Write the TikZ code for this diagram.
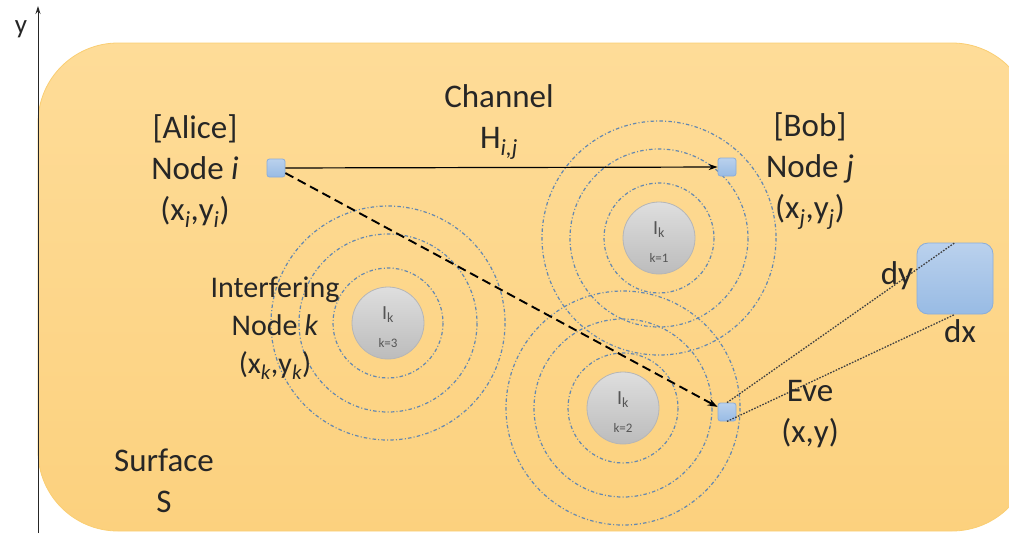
\documentclass[tikz,border=0pt]{standalone}
\usepackage{fontspec}
\setmainfont{Carlito}
\usetikzlibrary{arrows.meta}

\definecolor{surfTop}{RGB}{254,220,152}
\definecolor{surfBot}{RGB}{252,209,126}
\definecolor{surfEdge}{RGB}{250,206,115}
\definecolor{nodeTop}{RGB}{186,209,237}
\definecolor{nodeBot}{RGB}{152,187,228}
\definecolor{nodeEdge}{RGB}{138,173,218}
\definecolor{ringCol}{RGB}{100,136,176}
\definecolor{intTop}{RGB}{222,222,222}
\definecolor{intBot}{RGB}{188,188,188}
\definecolor{intEdge}{RGB}{182,182,182}
\definecolor{intTxt}{RGB}{85,85,85}
\definecolor{txt}{RGB}{38,38,38}

\tikzset{
  surface/.style={draw=surfEdge, line width=0.8pt, top color=surfTop, bottom color=surfBot, rounded corners=80pt},
  terminal/.style={draw=nodeEdge, line width=0.8pt, top color=nodeTop, bottom color=nodeBot,
    rounded corners=2.5pt, minimum size=18pt, inner sep=0pt},
  zoomed/.style={terminal, rounded corners=11pt, minimum width=76pt, minimum height=71pt},
  interferer/.style={circle, draw=intEdge, line width=0.8pt, top color=intTop, bottom color=intBot,
    minimum size=72pt, inner sep=0pt},
  ring/.style={draw=ringCol, line width=1.2pt, dash pattern=on 3.5pt off 2.2pt on 1pt off 2.2pt},
  lbl/.style={text=txt, align=center, inner sep=0pt, font=\fontsize{33}{41}\selectfont},
  smalllbl/.style={lbl, font=\fontsize{30}{38}\selectfont},
  ik/.style={text=intTxt, inner sep=0pt, font=\fontsize{20}{24}\selectfont},
  kidx/.style={text=intTxt, inner sep=0pt, font=\fontsize{13}{15}\selectfont},
  link/.style={draw=black, line width=1.2pt, -{Stealth[length=9pt,width=6pt]}},
  tap/.style={draw=black, line width=1.9pt, dash pattern=on 9pt off 5pt, -{Stealth[length=10pt,width=7pt]}},
  proj/.style={draw=black!75, line width=1.3pt, dash pattern=on 1.6pt off 1.4pt},
  axis/.style={draw=black!85, line width=1pt, -{Stealth[length=8pt,width=5pt]}}
}

\begin{document}
\begin{tikzpicture}[x=1pt,y=-1pt]
\useasboundingbox (0,0) rectangle (1009,533);

% the surface S
\path[surface] (38,43) rectangle (1032,531);

% vertical axis
\coordinate (ax0) at (38,533);
\coordinate (ax1) at (38,6);
\draw[axis] (ax0) -- (ax1);
\node[lbl, font=\fontsize{27}{30}\selectfont] (ylab) at (21,29) {y};

% interference rings
\foreach \c in {(659,238),(623,408),(388,323)} {
  \draw[ring] \c circle[radius=55];
  \draw[ring] \c circle[radius=89];
  \draw[ring] \c circle[radius=117];
}

% interfering nodes
\node[interferer] (k1) at (659,238) {};
\node[interferer] (k2) at (623,408) {};
\node[interferer] (k3) at (388,323) {};
\foreach \n/\k in {k1/1,k2/2,k3/3} {
  \node[ik] (\n I) at ([yshift=8pt]\n.center) {I\textsubscript{k}};
  \node[kidx] (\n K) at ([yshift=-20pt]\n.center) {k=\k};
}

% terminals
\node[terminal] (alice) at (276,168) {};
\node[terminal] (bob) at (727,167) {};
\node[terminal] (eve) at (727,412) {};
\node[zoomed] (big) at (955,278.5) {};

% links
\draw[link] (alice) -- (bob);
\draw[tap] (alice) -- (eve);
\draw[proj] (eve.north) -- (big.north);
\draw[proj] (eve.south) -- (big.south);

% labels
\node[lbl] (alicelab) at (195,171) {[Alice]\\Node \textit{i}\\(x\textsubscript{\itshape i},y\textsubscript{\itshape i})};
\node[lbl] (boblab) at (810,171) {[Bob]\\Node \textit{j}\\(x\textsubscript{\itshape j},y\textsubscript{\itshape j})};
\node[lbl] (chan) at (499,122) {Channel\\H\textsubscript{\itshape i,j}};
\node[smalllbl] (intlab) at (275,328) {Interfering\\Node \textit{k}\\(x\textsubscript{\itshape k},y\textsubscript{\itshape k})};
\node[lbl] (evelab) at (810,414) {Eve\\(x,y)};
\node[lbl] (dy) at (897,276) {dy};
\node[lbl] (dx) at (960,331) {dx};
\node[lbl] (surf) at (164,481) {Surface\\S};
\end{tikzpicture}
\end{document}
